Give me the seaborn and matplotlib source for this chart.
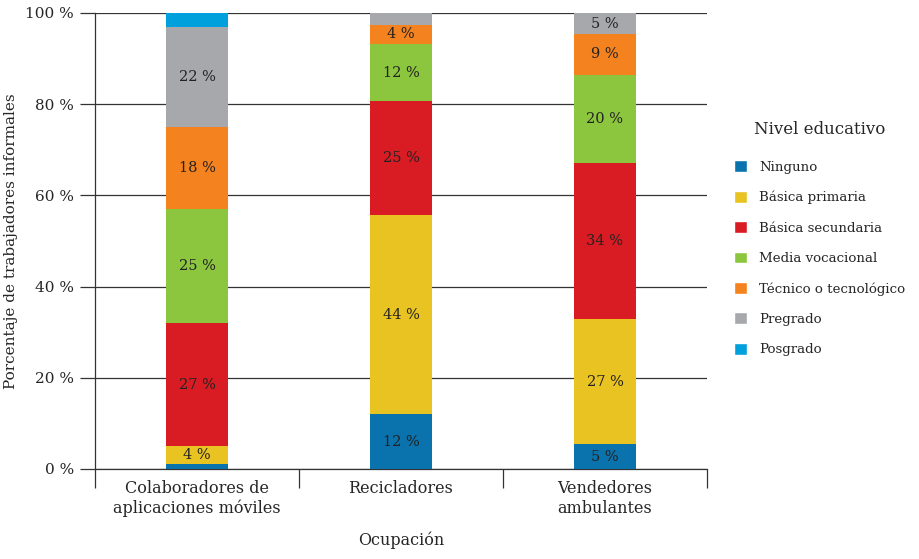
import matplotlib; matplotlib.use('Agg')
import numpy as np
import seaborn as sns
import matplotlib.pyplot as plt
from matplotlib.patches import Patch

ocupaciones = ['Colaboradores de\naplicaciones móviles', 'Recicladores', 'Vendedores\nambulantes']
niveles = ['Ninguno', 'Básica primaria', 'Básica secundaria', 'Media vocacional',
           'Técnico o tecnológico', 'Pregrado', 'Posgrado']
colores = ['#0a73ad', '#e9c321', '#d91c24', '#8cc63e', '#f4821f', '#a7a8ab', '#00a0dc']

# porcentaje por nivel educativo, en el orden de ocupaciones
ninguno = [1.0, 12.0, 5.4]
primaria = [4.0, 43.6, 27.4]
secundaria = [27.0, 25.1, 34.2]
media = [25.0, 12.5, 19.5]
tecnico = [18.0, 4.2, 8.8]
pregrado = [22.0, 2.6, 4.7]
posgrado = [3.0, 0.0, 0.0]
valores = [ninguno, primaria, secundaria, media, tecnico, pregrado, posgrado]

sns.set_style('white')
plt.rcParams['font.family'] = ['DejaVu Serif']
plt.rcParams['ytick.left'] = True
plt.rcParams['xtick.bottom'] = True

fig = plt.figure(figsize=(9.19, 5.59), dpi=100)
ax = fig.add_axes([95 / 919, 90 / 559, 612 / 919, 456 / 559])

bottom = np.zeros(len(ocupaciones))
for nivel, vals, c in zip(niveles, valores, colores):
    sns.barplot(x=ocupaciones, y=vals, bottom=bottom, color=c, width=0.3,
                ax=ax, zorder=3, linewidth=0, saturation=1)
    for i, v in enumerate(vals):
        if v >= 4:
            ax.text(i, bottom[i] + v / 2, f'{v:.0f} %', ha='center', va='center',
                    fontsize=10.5, color='#222222', zorder=4)
    bottom += np.array(vals)

ax.set_xlim(-0.5, 2.5)
ax.set_ylim(0, 100)
ax.set_yticks([0, 20, 40, 60, 80, 100])
ax.set_yticklabels([f'{t} %' for t in [0, 20, 40, 60, 80, 100]], fontsize=11)
ax.yaxis.grid(True, color='#333333', linewidth=0.9, zorder=0)
ax.tick_params(axis='y', which='major', left=True, length=11, width=0.9,
               color='#333333', pad=4)
for t in ax.yaxis.get_major_ticks():
    t.tick1line.set_visible(True)
ax.set_xticks([0, 1, 2])
ax.set_xticklabels(ocupaciones, fontsize=11.5)
ax.set_xticks([-0.5, 0.5, 1.5, 2.5], minor=True)
ax.tick_params(axis='x', which='major', bottom=True, length=0, pad=8)
ax.tick_params(axis='x', which='minor', bottom=True, length=14, width=0.9, color='#333333')
for s in ['top', 'right']:
    ax.spines[s].set_visible(False)
for s in ['left', 'bottom']:
    ax.spines[s].set_color('#333333')
    ax.spines[s].set_linewidth(0.9)

ax.set_ylabel('Porcentaje de trabajadores informales', fontsize=11, labelpad=5)
ax.set_xlabel('Ocupación', fontsize=11.5, labelpad=10)

handles = [Patch(facecolor=c, label=n) for n, c in zip(niveles, colores)]
leg = ax.legend(handles=handles, title='Nivel educativo', loc='upper left',
                bbox_to_anchor=(1.035, 0.775), frameon=False, fontsize=9.6,
                title_fontsize=12, handlelength=1.0, handleheight=1.0,
                labelspacing=1.27, handletextpad=0.9, borderaxespad=0)
leg._legend_box.sep = 16

fig.savefig('out.png', dpi=100)
